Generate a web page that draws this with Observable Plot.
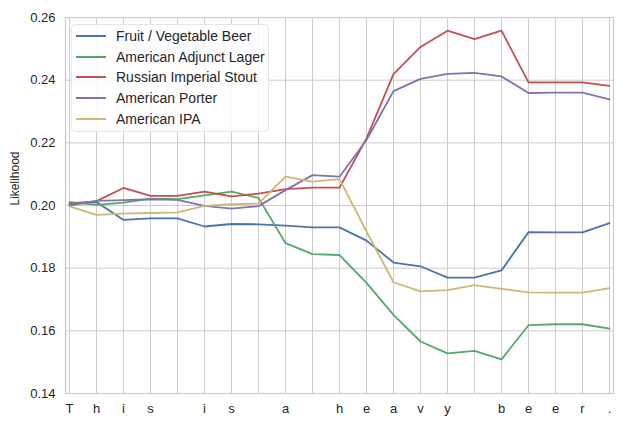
<!DOCTYPE html>
<html>
<head>
<meta charset="utf-8">
<script src="https://cdn.jsdelivr.net/npm/d3@7"></script>
<script src="https://cdn.jsdelivr.net/npm/@observablehq/plot@0.6"></script>
<style>
  html, body { margin: 0; padding: 0; background: #fff; }
  #wrap { position: relative; width: 625px; height: 426px; font-family: "Liberation Sans", Arial, sans-serif; }
  #legend { position: absolute; left: 71px; top: 24px; width: 198px; height: 108px; background: rgba(255,255,255,0.85);
            border: 1px solid #e6e6e6; border-radius: 4px; box-sizing: border-box; }
  .row { position: absolute; left: 0; height: 20px; display: flex; align-items: center; font-size: 14px; color: #262626; white-space: nowrap; }
  .sw { width: 30px; height: 2px; margin-left: 4px; margin-right: 10px; }
</style>
</head>
<body>
<div id="wrap"></div>
<script>
const chars = ["T","h","i","s"," ","i","s"," ","a"," ","h","e","a","v","y"," ","b","e","e","r","."];
const seriesNames = ["Fruit / Vegetable Beer","American Adjunct Lager","Russian Imperial Stout","American Porter","American IPA"];
const seriesColors = ["#4c72b0","#55a868","#c44e52","#8172b2","#ccb974"];
const yTicks = [0.14, 0.16, 0.18, 0.20, 0.22, 0.24, 0.26];

const fruitVeg = [0.2008,0.2011,0.1954,0.1959,0.1959,0.1933,0.1941,0.1940,0.1936,0.1930,0.1930,0.1888,0.1818,0.1806,0.1770,0.1770,0.1793,0.1915,0.1914,0.1914,0.1944];
const adjunctLager = [0.2011,0.2002,0.2009,0.2022,0.2020,0.2032,0.2044,0.2024,0.1880,0.1845,0.1842,0.1753,0.1651,0.1566,0.1528,0.1536,0.1509,0.1618,0.1621,0.1621,0.1607];
const imperialStout = [0.2004,0.2014,0.2056,0.2031,0.2031,0.2044,0.2029,0.2038,0.2052,0.2057,0.2057,0.2214,0.2419,0.2506,0.2558,0.2531,0.2558,0.2393,0.2393,0.2393,0.2382];
const porter = [0.2000,0.2015,0.2017,0.2020,0.2018,0.1999,0.1990,0.1998,0.2049,0.2097,0.2092,0.2209,0.2365,0.2404,0.2420,0.2423,0.2412,0.2359,0.2360,0.2360,0.2339];
const ipa = [0.1997,0.1970,0.1974,0.1976,0.1978,0.1999,0.2004,0.2006,0.2092,0.2076,0.2084,0.1917,0.1755,0.1726,0.1730,0.1746,0.1734,0.1723,0.1722,0.1722,0.1736];

const allSeries = [fruitVeg, adjunctLager, imperialStout, porter, ipa];
const data = allSeries.flatMap((vals, s) => vals.map((v, i) => ({series: seriesNames[s], i, v})));
const idx = d3.range(chars.length);

const chart = Plot.plot({
  width: 625,
  height: 426,
  marginLeft: 65,
  marginRight: 12,
  marginTop: 17,
  marginBottom: 33,
  style: {fontFamily: "'Liberation Sans', Arial, sans-serif", fontSize: "13px", color: "#262626", background: "#fff"},
  x: {type: "point", domain: idx, padding: 0},
  y: {domain: [0.14, 0.26]},
  color: {domain: seriesNames, range: seriesColors},
  marks: [
    Plot.gridX(idx, {stroke: "#cccccc", strokeOpacity: 1, strokeWidth: 1}),
    Plot.gridY(yTicks, {stroke: "#cccccc", strokeOpacity: 1, strokeWidth: 1}),
    Plot.frame({stroke: "#cccccc", strokeWidth: 1.2}),
    Plot.axisX(idx, {tickSize: 0, tickPadding: 10, tickFormat: i => chars[i], label: null, fontSize: 13}),
    Plot.axisY(yTicks, {tickSize: 0, tickPadding: 10, tickFormat: d3.format(".2f"), label: null, fontSize: 13}),
    Plot.text(["Likelihood"], {frameAnchor: "left", rotate: -90, dx: -50, fontSize: 12, fill: "#262626"}),
    Plot.lineY(data, {x: "i", y: "v", z: "series", stroke: "series", strokeWidth: 1.8})
  ]
});

const wrap = document.getElementById("wrap");
wrap.appendChild(chart);

const legend = document.createElement("div");
legend.id = "legend";
seriesNames.forEach((name, k) => {
  const row = document.createElement("div");
  row.className = "row";
  row.style.top = (1 + k * 20.7) + "px";
  const sw = document.createElement("div");
  sw.className = "sw";
  sw.style.background = seriesColors[k];
  const label = document.createElement("span");
  label.textContent = name;
  row.appendChild(sw);
  row.appendChild(label);
  legend.appendChild(row);
});
wrap.appendChild(legend);
</script>
</body>
</html>
